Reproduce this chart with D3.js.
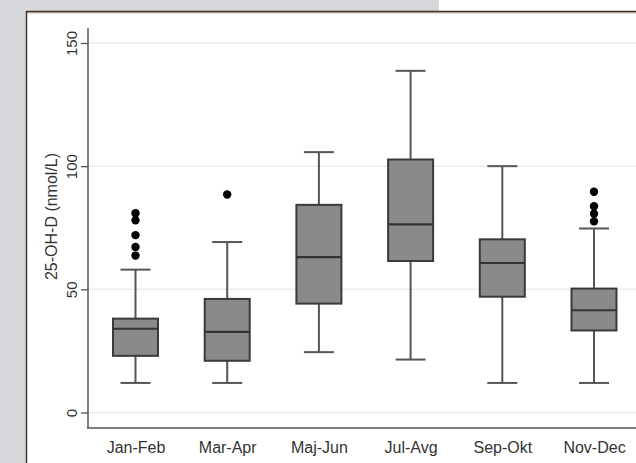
<!DOCTYPE html>
<html>
<head>
<meta charset="utf-8">
<script src="https://cdn.jsdelivr.net/npm/d3@7"></script>
<style>
  html, body { margin: 0; padding: 0; background: #d6d8dc; }
  svg { display: block; }
  text { font-family: "Liberation Sans", Arial, sans-serif; fill: #333; }
</style>
</head>
<body>
<svg id="chart" width="636" height="463"></svg>
<script>
// Seasonal 25-OH-D box plot summaries (nmol/L)
const categories   = ["Jan-Feb", "Mar-Apr", "Maj-Jun", "Jul-Avg", "Sep-Okt", "Nov-Dec"];
const lowWhisker   = [12, 12, 24.5, 21.5, 12, 12];
const q1           = [23, 21, 44.2, 61.5, 47, 33.3];
const median       = [34, 32.7, 63.1, 76.4, 60.7, 41.5];
const q3           = [38.1, 46.1, 84.3, 102.7, 70.3, 50.3];
const highWhisker  = [58, 69.2, 105.7, 138.7, 100, 74.7];
const outliers     = [[80.9, 78, 72, 67.2, 63.7], [88.5], [], [], [], [89.6, 83.7, 80.7, 77.6]];
const yTicks       = [0, 50, 100, 150];
const yTitle       = "25-OH-D (nmol/L)";

const svg = d3.select("#chart");

// page backdrop and framed white panel
svg.append("rect").attr("x", 0).attr("y", 0).attr("width", 636).attr("height", 463).attr("fill", "#d6d8dc");
svg.append("rect").attr("x", 439).attr("y", 0).attr("width", 197).attr("height", 12).attr("fill", "#ffffff");
svg.append("rect").attr("x", 26).attr("y", 11).attr("width", 620).attr("height", 460).attr("fill", "#ffffff");
svg.append("line").attr("x1", 26).attr("x2", 636).attr("y1", 11.5).attr("y2", 11.5)
  .attr("stroke", "#3e342c").attr("stroke-width", 1.5);
svg.append("line").attr("x1", 26).attr("x2", 636).attr("y1", 12.8).attr("y2", 12.8)
  .attr("stroke", "#9a8a78").attr("stroke-width", 1);
svg.append("line").attr("x1", 26.5).attr("x2", 26.5).attr("y1", 11).attr("y2", 463)
  .attr("stroke", "#3e342c").attr("stroke-width", 1.5);

const y = d3.scaleLinear().domain([0, 150]).range([412.5, 43]);
const x = d3.scalePoint().domain(categories).range([135.5, 594]);

const axisX = 88, plotRight = 636, axisBottom = 428;

// grid lines
svg.append("g").selectAll("line").data(yTicks).join("line")
  .attr("x1", axisX).attr("x2", plotRight)
  .attr("y1", d => y(d)).attr("y2", d => y(d))
  .attr("stroke", "#ececec").attr("stroke-width", 1.5);

// y axis
const gy = svg.append("g").attr("transform", `translate(${axisX},0)`)
  .call(d3.axisLeft(y).tickValues(yTicks).tickSize(7).tickFormat(d3.format("d")));
gy.select(".domain").remove();
gy.selectAll(".tick line").attr("stroke", "#555").attr("stroke-width", 1.3);
gy.selectAll(".tick text")
  .attr("x", null).attr("dy", null)
  .attr("transform", "translate(-11.5,0) rotate(-90)")
  .attr("text-anchor", "middle")
  .style("font-size", "15px").style("fill", "#333");
svg.append("line").attr("x1", axisX).attr("x2", axisX).attr("y1", 28).attr("y2", axisBottom)
  .attr("stroke", "#555").attr("stroke-width", 1.5);

// x axis
const gx = svg.append("g").attr("transform", `translate(0,${axisBottom})`)
  .call(d3.axisBottom(x).tickSize(0).tickPadding(0));
gx.select(".domain").remove();
gx.selectAll(".tick text").attr("dy", null).attr("y", 24.5)
  .style("font-size", "16px").style("fill", "#333");
svg.append("line").attr("x1", axisX - 1).attr("x2", plotRight).attr("y1", axisBottom).attr("y2", axisBottom)
  .attr("stroke", "#555").attr("stroke-width", 1.5);

// y axis title
svg.append("text")
  .attr("transform", `translate(57,216.5) rotate(-90)`)
  .attr("text-anchor", "middle")
  .style("font-size", "16px")
  .text(yTitle);

// boxes
const boxW = 45, capW = 30;
const boxes = categories.map((c, i) => ({
  c, lo: lowWhisker[i], q1: q1[i], med: median[i], q3: q3[i], hi: highWhisker[i], out: outliers[i]
}));

const g = svg.append("g");
const item = g.selectAll("g.box").data(boxes).join("g").attr("class", "box");

item.append("line") // whisker stem
  .attr("x1", d => x(d.c)).attr("x2", d => x(d.c))
  .attr("y1", d => y(d.lo)).attr("y2", d => y(d.hi))
  .attr("stroke", "#555").attr("stroke-width", 2);
item.append("line") // upper cap
  .attr("x1", d => x(d.c) - capW / 2).attr("x2", d => x(d.c) + capW / 2)
  .attr("y1", d => y(d.hi)).attr("y2", d => y(d.hi))
  .attr("stroke", "#555").attr("stroke-width", 2);
item.append("line") // lower cap
  .attr("x1", d => x(d.c) - capW / 2).attr("x2", d => x(d.c) + capW / 2)
  .attr("y1", d => y(d.lo)).attr("y2", d => y(d.lo))
  .attr("stroke", "#555").attr("stroke-width", 2);
item.append("rect")
  .attr("x", d => x(d.c) - boxW / 2).attr("width", boxW)
  .attr("y", d => y(d.q3)).attr("height", d => y(d.q1) - y(d.q3))
  .attr("fill", "#8a8a8a").attr("stroke", "#3a3a3a").attr("stroke-width", 2);
item.append("line") // median
  .attr("x1", d => x(d.c) - boxW / 2).attr("x2", d => x(d.c) + boxW / 2)
  .attr("y1", d => y(d.med)).attr("y2", d => y(d.med))
  .attr("stroke", "#333").attr("stroke-width", 2.2);
item.selectAll("circle").data(d => d.out.map(v => ({ c: d.c, v }))).join("circle")
  .attr("cx", d => x(d.c)).attr("cy", d => y(d.v)).attr("r", 4.2)
  .attr("fill", "#000");
</script>
</body>
</html>
